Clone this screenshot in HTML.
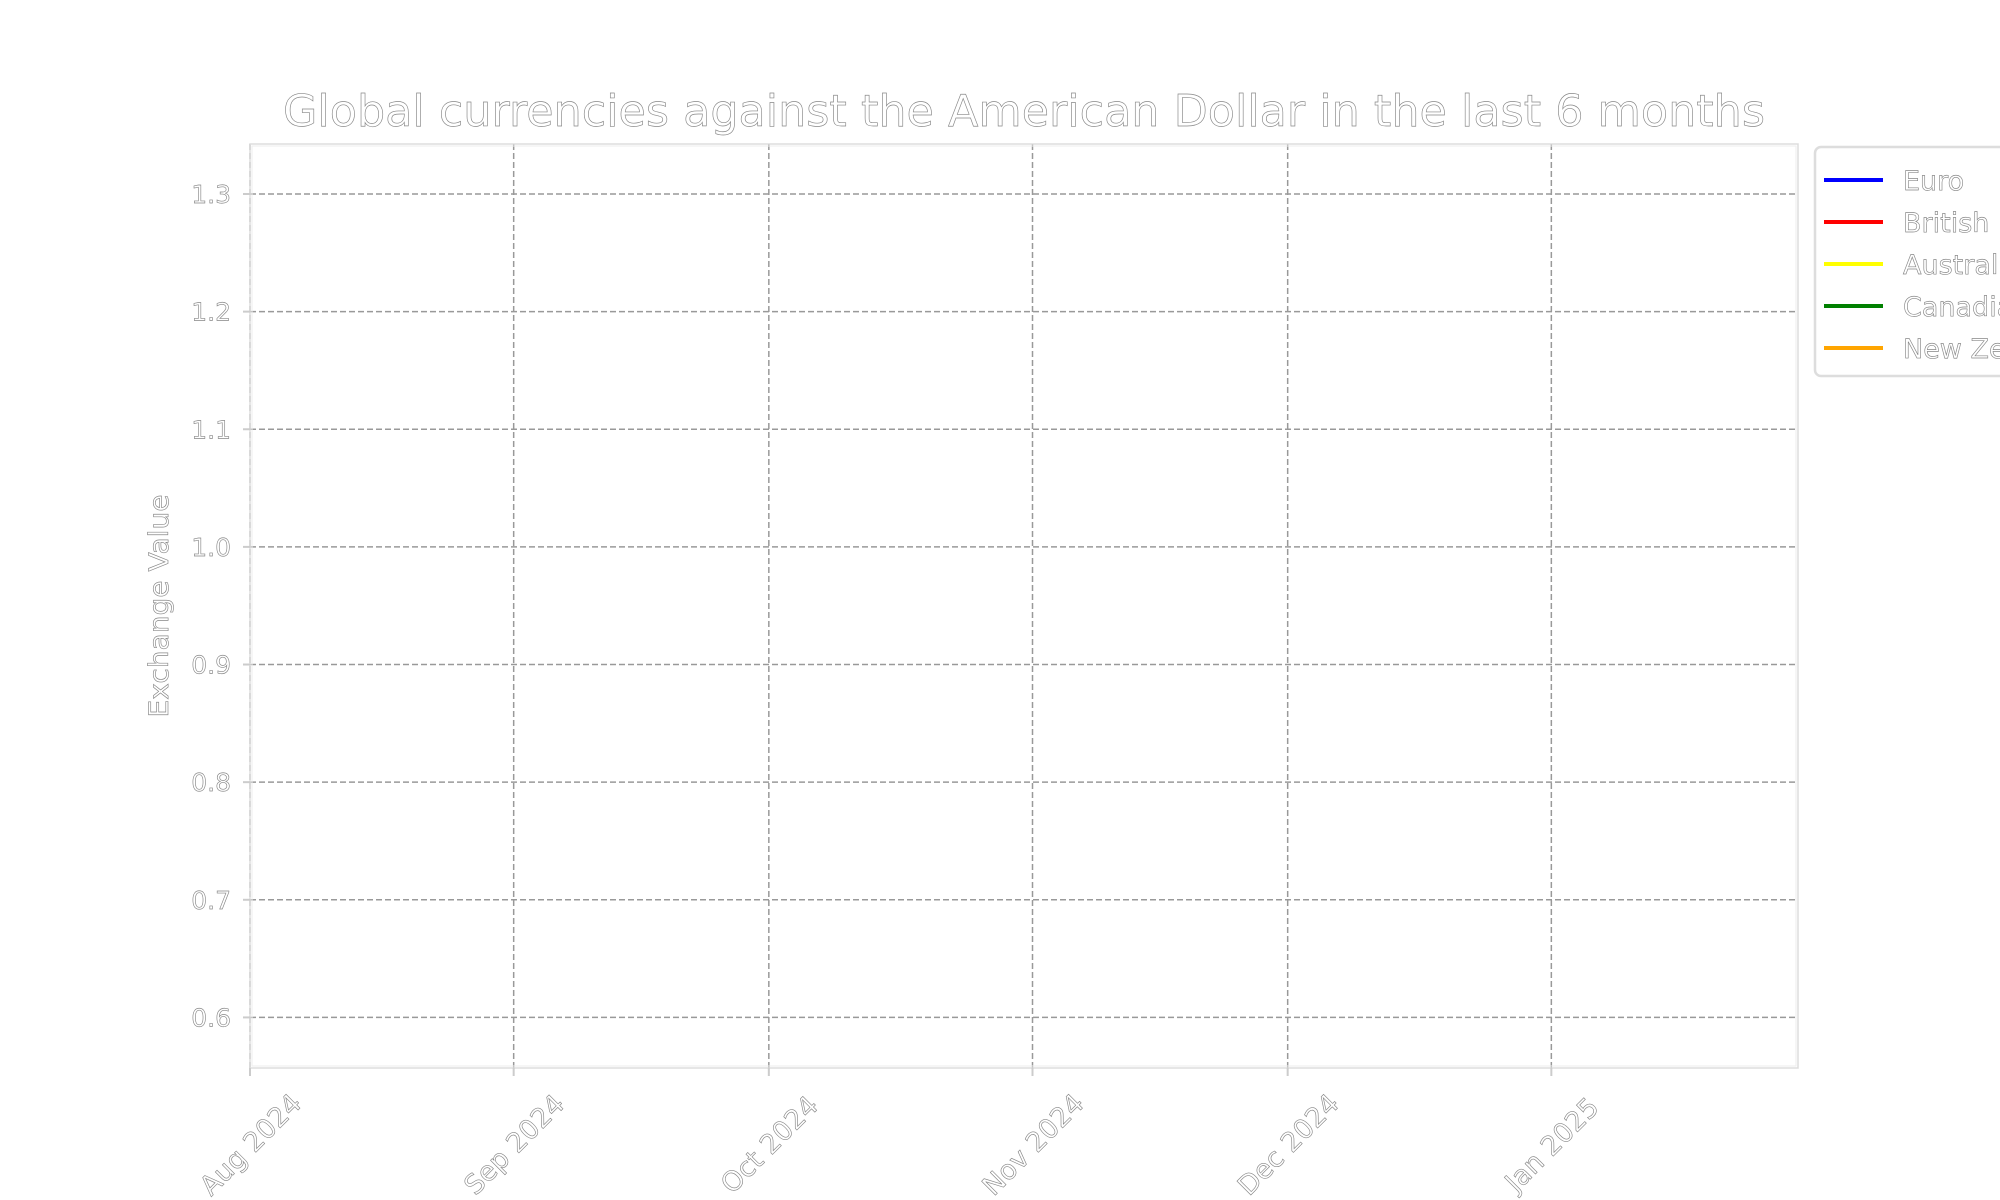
<!DOCTYPE html>
<html><head><meta charset="utf-8"><style>
html,body{margin:0;padding:0;background:#fff;}
svg{display:block;font-family:"DejaVu Sans","Liberation Sans",sans-serif;}
.ot{fill:#fff;stroke:#888;stroke-width:0.65;}
</style></head><body>
<svg id="chart" width="2000" height="1200" viewBox="0 0 2000 1200">
<g id="grid"></g>
<rect x="250" y="144" width="1548" height="924" fill="none" stroke="#ddd" stroke-width="1.5"/>
<rect x="252" y="146" width="1544" height="920" fill="none" stroke="#eee" stroke-width="1"/>
<g id="series"></g>
<g id="ticks"></g>
<text class="ot" x="1024" y="126" font-size="44" text-anchor="middle" textLength="1482" lengthAdjust="spacingAndGlyphs">Global currencies against the American Dollar in the last 6 months</text>
<text class="ot" transform="translate(168,606) rotate(-90)" font-size="27" text-anchor="middle" textLength="223" lengthAdjust="spacingAndGlyphs">Exchange Value</text>
<g id="legend">
<rect x="1815" y="147" width="260" height="229" rx="6" fill="#fff" stroke="#ddd" stroke-width="2.5"/>
</g>
</svg>
<script>
const NS="http://www.w3.org/2000/svg";
const yTicks=[0.6,0.7,0.8,0.9,1.0,1.1,1.2,1.3];
const yTickLabels=["0.6","0.7","0.8","0.9","1.0","1.1","1.2","1.3"];
const xTickDates=["2024-08-01","2024-09-01","2024-10-01","2024-11-01","2024-12-01","2025-01-01"];
const xTickLabels=["Aug 2024","Sep 2024","Oct 2024","Nov 2024","Dec 2024","Jan 2025"];
const seriesNames=["Euro","British Pound","Australian Dollar","Canadian Dollar","New Zealand Dollar"];
const seriesColors=["#0000ff","#ff0000","#ffff00","#008000","#ffa500"];
const seriesDates=[];
const euroValues=[];
const gbpValues=[];
const audValues=[];
const cadValues=[];
const nzdValues=[];
const seriesValues=[euroValues,gbpValues,audValues,cadValues,nzdValues];

const X0=250,X1=1798,Y0=144,Y1=1068;
const xMin=Date.UTC(2024,7,1), xMax=Date.UTC(2025,0,30);
const yMin=0.557, yMax=1.3425;
function xs(d){const t=(typeof d==="string")?Date.parse(d+"T00:00:00Z"):d;return X0+(t-xMin)/(xMax-xMin)*(X1-X0);}
function ys(v){return Y1-(v-yMin)/(yMax-yMin)*(Y1-Y0);}
function mk(tag,attrs,parent){const e=document.createElementNS(NS,tag);for(const k in attrs)e.setAttribute(k,attrs[k]);parent.appendChild(e);return e;}
const grid=document.getElementById("grid"),ticks=document.getElementById("ticks");
yTicks.forEach((v,i)=>{
  const y=ys(v);
  const g=mk("line",{x1:X0,x2:X1,y1:y,y2:y,stroke:"#999","stroke-width":1.5,"stroke-dasharray":"6,3"},grid);
  
  
  const tk=mk("line",{x1:X0-7,x2:X0,y1:y,y2:y,stroke:"#ccc","stroke-width":2},ticks);
  
  
  const t=mk("text",{x:231,y:y+9,"font-size":25,"text-anchor":"end",class:"ot"},ticks);
  t.textContent=yTickLabels[i];
  
  
});
xTickDates.forEach((d,i)=>{
  const x=xs(d);
  const g=mk("line",{x1:x,x2:x,y1:Y0,y2:Y1,stroke:"#999","stroke-width":1.5,"stroke-dasharray":"6,3"},grid);
  
  
  const tk=mk("line",{x1:x,x2:x,y1:Y1,y2:Y1+8,stroke:"#ccc","stroke-width":2},ticks);
  
  
  const t=mk("text",{transform:`translate(${x},1144) rotate(-45)`,"font-size":27,"text-anchor":"middle",dy:"10",class:"ot"},ticks);
  t.textContent=xTickLabels[i];
  
  
});
const series=document.getElementById("series");
seriesValues.forEach((vals,si)=>{
  if(!vals.length)return;
  const pts=vals.map((v,j)=>xs(seriesDates[j])+","+ys(v)).join(" ");
  const p=mk("polyline",{points:pts,fill:"none",stroke:seriesColors[si],"stroke-width":3},series);
  
  
});
const legend=document.getElementById("legend");
seriesNames.forEach((n,i)=>{
  const y=180+i*42;
  const l=mk("line",{x1:1824,x2:1883,y1:y,y2:y,stroke:seriesColors[i],"stroke-width":4},legend);
  
  
  const t=mk("text",{x:1903,y:y+10,"font-size":27,class:"ot"},legend);
  t.textContent=n;
  
  
});
</script>
</body></html>
